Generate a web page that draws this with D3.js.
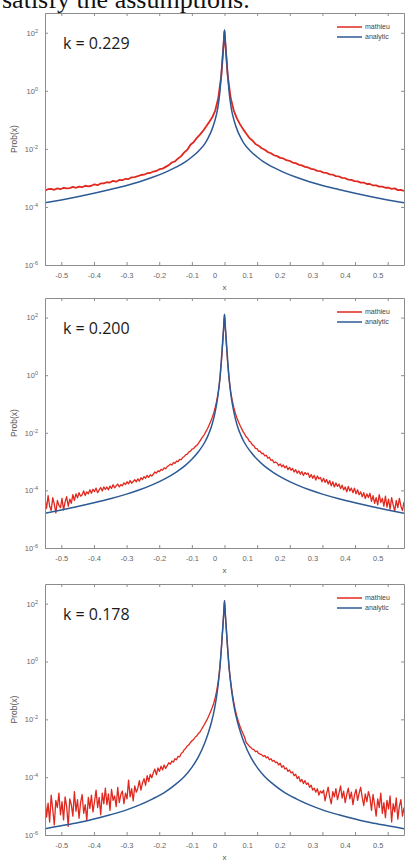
<!DOCTYPE html>
<html>
<head>
<meta charset="utf-8">
<script src="https://cdn.jsdelivr.net/npm/d3@7"></script>
<style>
  body { margin: 0; background: #fff; }
  svg { display: block; }
</style>
</head>
<body>
<svg id="chart" width="405" height="861"></svg>
<script>
// ---- data ----
const xTicks = [-0.5, -0.4, -0.3, -0.2, -0.1, 0, 0.1, 0.2, 0.3, 0.4, 0.5];
const yTickExps = [-6, -4, -2, 0, 2];
const kLabels = ['k = 0.229', 'k = 0.200', 'k = 0.178'];
const seriesNames = ['mathieu', 'analytic'];

// mathieu: log10 Prob(x), evenly spaced samples from x=-0.55 to x=0.55
const mathieu1 = [
  -3.43,-3.39,-3.38,-3.41,-3.36,-3.39,-3.34,-3.36,-3.35,-3.31,
  -3.34,-3.30,-3.32,-3.27,-3.29,-3.27,-3.22,-3.25,-3.19,-3.19,
  -3.15,-3.16,-3.10,-3.13,-3.07,-3.08,-3.03,-3.04,-2.98,-2.97,
  -2.94,-2.90,-2.89,-2.84,-2.83,-2.78,-2.76,-2.70,-2.68,-2.62,
  -2.56,-2.47,-2.43,-2.33,-2.25,-2.12,-2.03,-1.86,-1.77,-1.63,
  -1.52,-1.39,-1.24,-1.08,-0.92,-0.68,-0.25,0.55,2.05,0.55,
  -0.25,-0.68,-0.95,-1.15,-1.32,-1.47,-1.62,-1.71,-1.83,-1.89,
  -1.98,-2.03,-2.11,-2.15,-2.22,-2.25,-2.31,-2.33,-2.39,-2.41,
  -2.47,-2.49,-2.55,-2.57,-2.62,-2.64,-2.69,-2.71,-2.76,-2.77,
  -2.82,-2.83,-2.88,-2.89,-2.94,-2.95,-3.00,-3.01,-3.06,-3.07,
  -3.11,-3.12,-3.16,-3.16,-3.21,-3.21,-3.26,-3.26,-3.30,-3.30,
  -3.34,-3.34,-3.38,-3.36,-3.42,-3.41,-3.45
];
const mathieu2 = [
  -4.30,-4.62,-4.18,-4.55,-4.70,-4.25,-4.48,-4.78,-4.35,-4.52,
  -4.60,-4.28,-4.68,-4.40,-4.22,-4.55,-4.30,-4.45,-4.15,-4.35,
  -4.12,-4.26,-4.08,-4.20,-4.15,-4.02,-4.18,-4.05,-4.12,-3.98,
  -4.10,-3.96,-4.04,-3.92,-4.08,-3.98,-3.90,-4.02,-3.88,-3.97,
  -3.88,-3.98,-3.85,-3.93,-3.80,-3.91,-3.84,-3.78,-3.88,-3.80,
  -3.84,-3.74,-3.80,-3.70,-3.77,-3.66,-3.75,-3.69,-3.63,-3.70,
  -3.60,-3.68,-3.56,-3.62,-3.52,-3.58,-3.48,-3.55,-3.46,-3.50,
  -3.44,-3.36,-3.40,-3.32,-3.35,-3.27,-3.30,-3.22,-3.25,-3.17,
  -3.14,-3.09,-3.12,-3.03,-3.06,-2.98,-3.00,-2.92,-2.93,-2.86,
  -2.82,-2.76,-2.74,-2.66,-2.64,-2.57,-2.55,-2.48,-2.44,-2.38,
  -2.30,-2.21,-2.13,-2.06,-1.95,-1.86,-1.74,-1.62,-1.48,-1.32,
  -1.12,-0.88,-0.58,-0.15,0.45,1.25,2.10,1.25,0.45,-0.15,
  -0.58,-0.88,-1.12,-1.32,-1.48,-1.62,-1.74,-1.85,-1.96,-2.04,
  -2.14,-2.19,-2.29,-2.33,-2.42,-2.45,-2.54,-2.55,-2.64,-2.64,
  -2.72,-2.71,-2.80,-2.78,-2.88,-2.85,-2.96,-2.94,-3.04,-3.02,
  -3.05,-3.14,-3.08,-3.18,-3.12,-3.22,-3.15,-3.28,-3.20,-3.30,
  -3.24,-3.36,-3.28,-3.40,-3.32,-3.44,-3.35,-3.48,-3.38,-3.44,
  -3.40,-3.55,-3.45,-3.58,-3.48,-3.64,-3.50,-3.60,-3.55,-3.70,
  -3.58,-3.72,-3.62,-3.78,-3.66,-3.84,-3.70,-3.88,-3.74,-3.86,
  -3.78,-3.94,-3.82,-3.98,-3.88,-4.05,-3.86,-4.02,-3.92,-4.08,
  -3.92,-4.12,-3.98,-4.15,-4.05,-4.22,-4.08,-4.28,-4.12,-4.25,
  -4.10,-4.38,-4.18,-4.45,-4.25,-4.50,-4.15,-4.42,-4.28,-4.55,
  -4.20,-4.58,-4.30,-4.65,-4.25,-4.50,-4.72,-4.35,-4.60,-4.28,
  -4.55,-4.70,-4.40
];
const mathieu3 = [
  -4.72,-5.38,-4.90,-5.55,-4.62,-5.12,-5.65,-4.80,-5.05,-4.55,
  -5.30,-4.85,-5.48,-4.68,-5.02,-5.70,-4.75,-4.95,-5.35,-4.50,
  -5.18,-4.78,-5.42,-4.88,-4.60,-5.25,-4.95,-5.50,-4.70,-5.08,
  -4.62,-5.20,-4.85,-4.45,-5.05,-4.70,-5.30,-4.55,-4.92,-4.38,
  -4.95,-4.58,-5.15,-4.42,-4.80,-4.65,-5.02,-4.35,-4.88,-4.60,
  -4.48,-4.92,-4.55,-4.75,-4.10,-4.68,-4.40,-4.82,-4.30,-4.52,
  -4.38,-4.12,-4.45,-4.20,-4.05,-4.28,-3.95,-4.15,-3.90,-4.02,
  -3.85,-3.72,-3.92,-3.68,-3.80,-3.62,-3.75,-3.58,-3.70,-3.60,
  -3.50,-3.55,-3.44,-3.48,-3.36,-3.40,-3.28,-3.30,-3.18,-3.14,
  -3.05,-3.00,-2.92,-2.88,-2.80,-2.74,-2.70,-2.62,-2.58,-2.50,
  -2.45,-2.36,-2.27,-2.18,-2.08,-1.98,-1.86,-1.74,-1.60,-1.45,
  -1.25,-1.00,-0.68,-0.20,0.45,1.25,2.10,1.25,0.45,-0.25,
  -0.70,-1.10,-1.42,-1.68,-1.90,-2.08,-2.24,-2.38,-2.50,-2.62,
  -2.80,-2.86,-2.93,-2.97,-3.03,-3.05,-3.12,-3.10,-3.18,-3.20,
  -3.22,-3.28,-3.25,-3.33,-3.30,-3.40,-3.36,-3.45,-3.42,-3.50,
  -3.48,-3.58,-3.52,-3.66,-3.60,-3.72,-3.68,-3.80,-3.75,-3.85,
  -3.82,-3.95,-3.90,-4.05,-3.98,-4.15,-4.08,-4.22,-4.12,-4.25,
  -4.20,-4.35,-4.28,-4.45,-4.38,-4.52,-4.40,-4.62,-4.48,-4.55,
  -4.45,-4.82,-4.55,-4.35,-4.70,-4.92,-4.50,-4.68,-4.40,-4.78,
  -4.55,-4.30,-4.72,-4.48,-4.88,-4.60,-4.38,-4.75,-4.52,-4.95,
  -4.62,-4.42,-4.80,-4.55,-4.35,-4.70,-4.98,-4.58,-4.85,-4.50,
  -4.70,-5.15,-4.60,-4.95,-5.35,-4.75,-5.05,-4.55,-5.25,-4.88,
  -5.40,-4.80,-5.10,-4.65,-5.55,-4.92,-5.20,-4.72,-5.45,-5.00,
  -4.78,-5.35,-5.05
];

// analytic: [x, log10 Prob(x)]
const analytic1 = [
  [-0.55,-3.86],[-0.50,-3.76],[-0.45,-3.65],[-0.40,-3.53],[-0.35,-3.40],[-0.30,-3.26],
  [-0.26,-3.13],[-0.22,-2.98],[-0.18,-2.80],[-0.15,-2.64],[-0.12,-2.45],[-0.10,-2.28],
  [-0.08,-2.08],[-0.06,-1.82],[-0.05,-1.62],[-0.04,-1.38],[-0.03,-1.05],[-0.02,-0.55],
  [-0.014,-0.02],[-0.007,1.0],[-0.003,1.6],[0,2.1],[0.003,1.6],[0.007,1.0],[0.014,-0.02],
  [0.02,-0.55],[0.03,-1.05],[0.04,-1.38],[0.05,-1.62],[0.06,-1.82],[0.08,-2.08],
  [0.10,-2.28],[0.12,-2.45],[0.15,-2.64],[0.18,-2.80],[0.22,-2.98],[0.26,-3.13],
  [0.30,-3.26],[0.35,-3.40],[0.40,-3.53],[0.45,-3.65],[0.50,-3.76],[0.55,-3.86]
];
const analytic2 = [
  [-0.55,-4.79],[-0.50,-4.68],[-0.45,-4.56],[-0.40,-4.43],[-0.35,-4.29],[-0.30,-4.13],
  [-0.26,-3.98],[-0.22,-3.80],[-0.18,-3.58],[-0.15,-3.38],[-0.12,-3.13],[-0.10,-2.92],
  [-0.08,-2.66],[-0.06,-2.32],[-0.05,-2.08],[-0.04,-1.78],[-0.03,-1.35],[-0.02,-0.70],
  [-0.014,-0.10],[-0.007,0.95],[-0.003,1.6],[0,2.12],[0.003,1.6],[0.007,0.95],[0.014,-0.10],
  [0.02,-0.70],[0.03,-1.35],[0.04,-1.78],[0.05,-2.08],[0.06,-2.32],[0.08,-2.66],
  [0.10,-2.92],[0.12,-3.13],[0.15,-3.38],[0.18,-3.58],[0.22,-3.80],[0.26,-3.98],
  [0.30,-4.13],[0.35,-4.29],[0.40,-4.43],[0.45,-4.56],[0.50,-4.68],[0.55,-4.79]
];
const analytic3 = [
  [-0.55,-5.78],[-0.50,-5.68],[-0.45,-5.58],[-0.40,-5.45],[-0.35,-5.30],[-0.30,-5.13],
  [-0.26,-4.96],[-0.22,-4.75],[-0.18,-4.50],[-0.15,-4.25],[-0.12,-3.94],[-0.10,-3.66],
  [-0.08,-3.30],[-0.06,-2.80],[-0.05,-2.48],[-0.04,-2.10],[-0.03,-1.60],[-0.02,-0.85],
  [-0.014,-0.20],[-0.007,0.90],[-0.003,1.55],[0,2.1],[0.003,1.55],[0.007,0.90],[0.014,-0.20],
  [0.02,-0.85],[0.03,-1.60],[0.04,-2.10],[0.05,-2.48],[0.06,-2.80],[0.08,-3.30],
  [0.10,-3.66],[0.12,-3.94],[0.15,-4.25],[0.18,-4.50],[0.22,-4.75],[0.26,-4.96],
  [0.30,-5.13],[0.35,-5.30],[0.40,-5.45],[0.45,-5.58],[0.50,-5.68],[0.55,-5.78]
];

// ---- layout ----
const panels = [
  { top: 13, bottom: 265, k: kLabels[0], mathieu: mathieu1, analytic: analytic1, redWidth: 1.8 },
  { top: 298, bottom: 548, k: kLabels[1], mathieu: mathieu2, analytic: analytic2, redWidth: 1.3 },
  { top: 584, bottom: 835, k: kLabels[2], mathieu: mathieu3, analytic: analytic3, redWidth: 1.3 }
];
const left = 45, right = 404;
const red = '#e0281f', blue = '#2c5a94', axisColor = '#8c8c8c', tickText = '#666';

const svg = d3.select('#chart');
svg.append('rect').attr('width', 405).attr('height', 861).attr('fill', '#fff');

// cropped caption line from the page above the figure
svg.append('text')
  .attr('x', 2).attr('y', 8)
  .attr('font-family', '"Liberation Serif", "DejaVu Serif", serif')
  .attr('font-size', 26).attr('fill', '#111')
  .text('satisfy the assumptions.');

const x = d3.scaleLinear().domain([-0.55, 0.55]).range([left, right]);

panels.forEach((p, i) => {
  const y = d3.scaleLog().domain([1e-6, Math.pow(10, 2.68)]).range([p.bottom, p.top]);
  const g = svg.append('g');

  const clipId = 'clip' + i;
  g.append('clipPath').attr('id', clipId)
    .append('rect').attr('x', left).attr('y', p.top)
    .attr('width', right - left).attr('height', p.bottom - p.top);

  // lines
  const n = p.mathieu.length;
  const redPts = p.mathieu.map((v, j) => [-0.55 + j * 1.1 / (n - 1), v]);
  const line = d3.line().x(d => x(d[0])).y(d => y(Math.pow(10, d[1])));
  const lines = g.append('g').attr('clip-path', `url(#${clipId})`);
  lines.append('path').datum(redPts)
    .attr('fill', 'none').attr('stroke', red).attr('stroke-width', p.redWidth)
    .attr('stroke-linejoin', 'round').attr('d', line);
  lines.append('path').datum(p.analytic)
    .attr('fill', 'none').attr('stroke', blue).attr('stroke-width', 1.5)
    .attr('d', line.curve(d3.curveMonotoneX));

  // axes (MATLAB style box with inward ticks)
  const fmtX = d => d === 0 ? '0' : d.toFixed(1);
  const yTickVals = yTickExps.map(e => Math.pow(10, e));
  const bottomAxis = g.append('g').attr('transform', `translate(0,${p.bottom})`)
    .call(d3.axisBottom(x).tickValues(xTicks).tickSize(-3).tickSizeOuter(0).tickPadding(8).tickFormat(fmtX));
  const topAxis = g.append('g').attr('transform', `translate(0,${p.top})`)
    .call(d3.axisTop(x).tickValues(xTicks).tickSize(-3).tickSizeOuter(0).tickFormat(''));
  const leftAxis = g.append('g').attr('transform', `translate(${left},0)`)
    .call(d3.axisLeft(y).tickValues(yTickVals).tickSize(-3).tickSizeOuter(0).tickPadding(7).tickFormat(''));
  const rightAxis = g.append('g').attr('transform', `translate(${right},0)`)
    .call(d3.axisRight(y).tickValues(yTickVals).tickSize(-3).tickSizeOuter(0).tickFormat(''));

  [bottomAxis, topAxis, leftAxis, rightAxis].forEach(a => {
    a.select('.domain').attr('stroke', axisColor);
    a.selectAll('.tick line').attr('stroke', axisColor);
    a.selectAll('text').attr('fill', tickText)
      .attr('font-family', '"Liberation Sans", Arial, sans-serif').attr('font-size', 7.5);
  });

  // in the source figure the labels from 0 upward sit a little left of their ticks
  bottomAxis.selectAll('.tick text').attr('dx', d => d >= 0 ? -10 : 0);

  // 10^n labels
  leftAxis.selectAll('.tick text').each(function (d) {
    const t = d3.select(this);
    t.text('10');
    t.append('tspan').attr('dy', '-0.55em').attr('font-size', 5.5)
      .text(Math.round(Math.log10(d)));
  });

  // axis titles
  svg.append('text')
    .attr('x', (left + right) / 2).attr('y', p.bottom + 25)
    .attr('text-anchor', 'middle').attr('fill', '#555')
    .attr('font-family', '"Liberation Sans", Arial, sans-serif').attr('font-size', 8)
    .text('x');
  svg.append('text')
    .attr('transform', `translate(17,${(p.top + p.bottom) / 2}) rotate(-90)`)
    .attr('text-anchor', 'middle').attr('fill', '#555')
    .attr('font-family', '"Liberation Sans", Arial, sans-serif').attr('font-size', 8.5)
    .text('Prob(x)');

  // k annotation
  svg.append('text')
    .attr('x', 63).attr('y', p.top + 36)
    .attr('font-family', '"Open Sans", "Noto Sans", sans-serif').attr('font-size', 16)
    .attr('fill', '#1a1a1a')
    .text(p.k);

  // legend
  [red, blue].forEach((c, j) => {
    const ly = p.top + 14 + j * 10;
    svg.append('line').attr('x1', 337).attr('x2', 362).attr('y1', ly).attr('y2', ly)
      .attr('stroke', c).attr('stroke-width', 1.5);
    svg.append('text').attr('x', 365).attr('y', ly).attr('dy', '0.35em')
      .attr('font-family', '"Liberation Sans", Arial, sans-serif').attr('font-size', 7)
      .attr('fill', '#444').text(seriesNames[j]);
  });
});
</script>
</body>
</html>
